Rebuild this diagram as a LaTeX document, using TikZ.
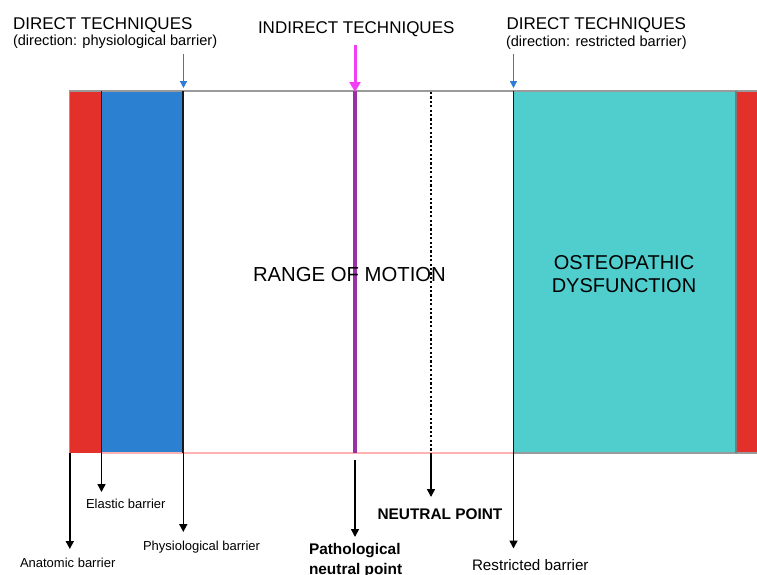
\documentclass[tikz,border=0pt]{standalone}
\usepackage{fontspec}
\setmainfont{Liberation Sans}
\usetikzlibrary{arrows.meta}
\definecolor{rRed}{HTML}{E3302A}
\definecolor{rBlue}{HTML}{2B80D2}
\definecolor{rCyan}{HTML}{50CECE}
\definecolor{rPurple}{HTML}{9B2FA6}
\definecolor{rMagenta}{HTML}{F23EF5}
\definecolor{rArrowBlue}{HTML}{2F7BDA}
\definecolor{rEdge}{HTML}{9A9A9A}
\begin{document}
\begin{tikzpicture}[x=1pt,y=-1pt,
  txt/.style={inner sep=0pt, outer sep=0pt, anchor=base west},
  big/.style={txt, font=\fontsize{17}{20}\selectfont},
  sub/.style={txt, font=\fontsize{14.6}{16}\selectfont},
  small/.style={txt, font=\fontsize{13}{15}\selectfont},
  mid/.style={txt, font=\fontsize{15.2}{17}\selectfont},
  boldlbl/.style={txt, font=\bfseries\fontsize{15.4}{20}\selectfont, align=left},
  centre/.style={inner sep=0pt, outer sep=0pt, font=\fontsize{20}{23.4}\selectfont, align=center},
  arr/.style={line width=1.6pt, -{Triangle[length=8pt,width=8pt]}},
  bar/.style={black!90, line width=1.7pt},
  bluearr/.style={rArrowBlue, line width=1.4pt, -{Triangle[length=7pt,width=7pt]}},
  magarr/.style={rMagenta, line width=3pt, -{Triangle[length=10pt,width=11pt]}},
]
\useasboundingbox (0,0) rectangle (757,574);
\fill[white] (0,0) rectangle (757,574);
% bands
\fill[rRed] (69,91) rectangle (101,453);
\fill[rBlue] (101,91) rectangle (183,453);
\fill[rCyan] (514,91) rectangle (736,453);
\fill[rRed] (736,91) rectangle (757,453);
\draw[rEdge, line width=1.2pt] (69,91) -- (757,91);
\draw[rEdge, line width=1pt] (69,91) -- (69,453);
\draw[red!30, line width=1.2pt] (101,453) -- (514,453);
\draw[rEdge, line width=1.2pt] (514,453) -- (757,453);
\draw[rEdge!80!black, line width=1.2pt] (736,91) -- (736,453);
% barrier coordinates
\coordinate (anaTop) at (69.8,453);
\coordinate (anaEnd) at (69.8,549);
\coordinate (elaTop) at (101.5,91);
\coordinate (elaBot) at (101.5,453);
\coordinate (elaEnd) at (101.5,492);
\coordinate (phyTop) at (183.3,91);
\coordinate (phyBot) at (183.3,453);
\coordinate (phyEnd) at (183.3,532);
\coordinate (patTop) at (355,91);
\coordinate (patBot) at (355,453);
\coordinate (patStart) at (355,460);
\coordinate (patEnd) at (355,537);
\coordinate (neuTop) at (431,92);
\coordinate (neuMid) at (431,453);
\coordinate (neuEnd) at (431,497);
\coordinate (resTop) at (513.5,91);
\coordinate (resBot) at (513.5,453);
\coordinate (resEnd) at (513.5,548.5);
% vertical lines
\draw[bar] (elaTop) -- (elaBot);
\draw[arr] (elaBot) -- (elaEnd);
\draw[bar] (phyTop) -- (phyBot);
\draw[arr] (phyBot) -- (phyEnd);
\draw[arr] (anaTop) -- (anaEnd);
\draw[rPurple, line width=3.2pt] (patTop) -- (patBot);
\draw[arr] (patStart) -- (patEnd);
\draw[black, line width=2.4pt, dash pattern=on 2.2pt off 2.2pt] (neuTop) -- (neuMid);
\draw[arr] (neuMid) -- (neuEnd);
\draw[bar] (resTop) -- (resBot);
\draw[arr] (resBot) -- (resEnd);
% top labels
\node[big] (dirL) at (13,29) {DIRECT TECHNIQUES};
\node[sub] (dirLsub) at (13,45) {(direction: physiological barrier)};
\node[big] (indir) at (258,33.5) {INDIRECT TECHNIQUES};
\node[big] (dirR) at (506.5,29.3) {DIRECT TECHNIQUES};
\node[sub] (dirRsub) at (506,46.5) {(direction: restricted barrier)};
\coordinate (blueL) at (183.5,54);
\coordinate (blueLend) at (183.5,88);
\coordinate (blueR) at (513.5,54);
\coordinate (blueRend) at (513.5,88);
\coordinate (magS) at (355,45);
\coordinate (magE) at (355,92);
\draw[bluearr] (blueL) -- (blueLend);
\draw[bluearr] (blueR) -- (blueRend);
\draw[magarr] (magS) -- (magE);
% centre labels
\node[txt, font=\fontsize{20.3}{23}\selectfont] (rom) at (253,281.7) {RANGE OF MOTION};
\node[centre] (osteo) at (624,274) {OSTEOPATHIC\\DYSFUNCTION};
% bottom labels
\node[small] (ana) at (20,567) {Anatomic barrier};
\node[small] (ela) at (86,508) {Elastic barrier};
\node[small] (phy) at (143,550) {Physiological barrier};
\node[boldlbl, anchor=north west] (pat) at (309,543.5) {Pathological\\neutral point};
\node[txt, font=\bfseries\fontsize{15.4}{17}\selectfont] (neu) at (377.5,519) {NEUTRAL POINT};
\node[mid] (res) at (472,570) {Restricted barrier};
\end{tikzpicture}
\end{document}
